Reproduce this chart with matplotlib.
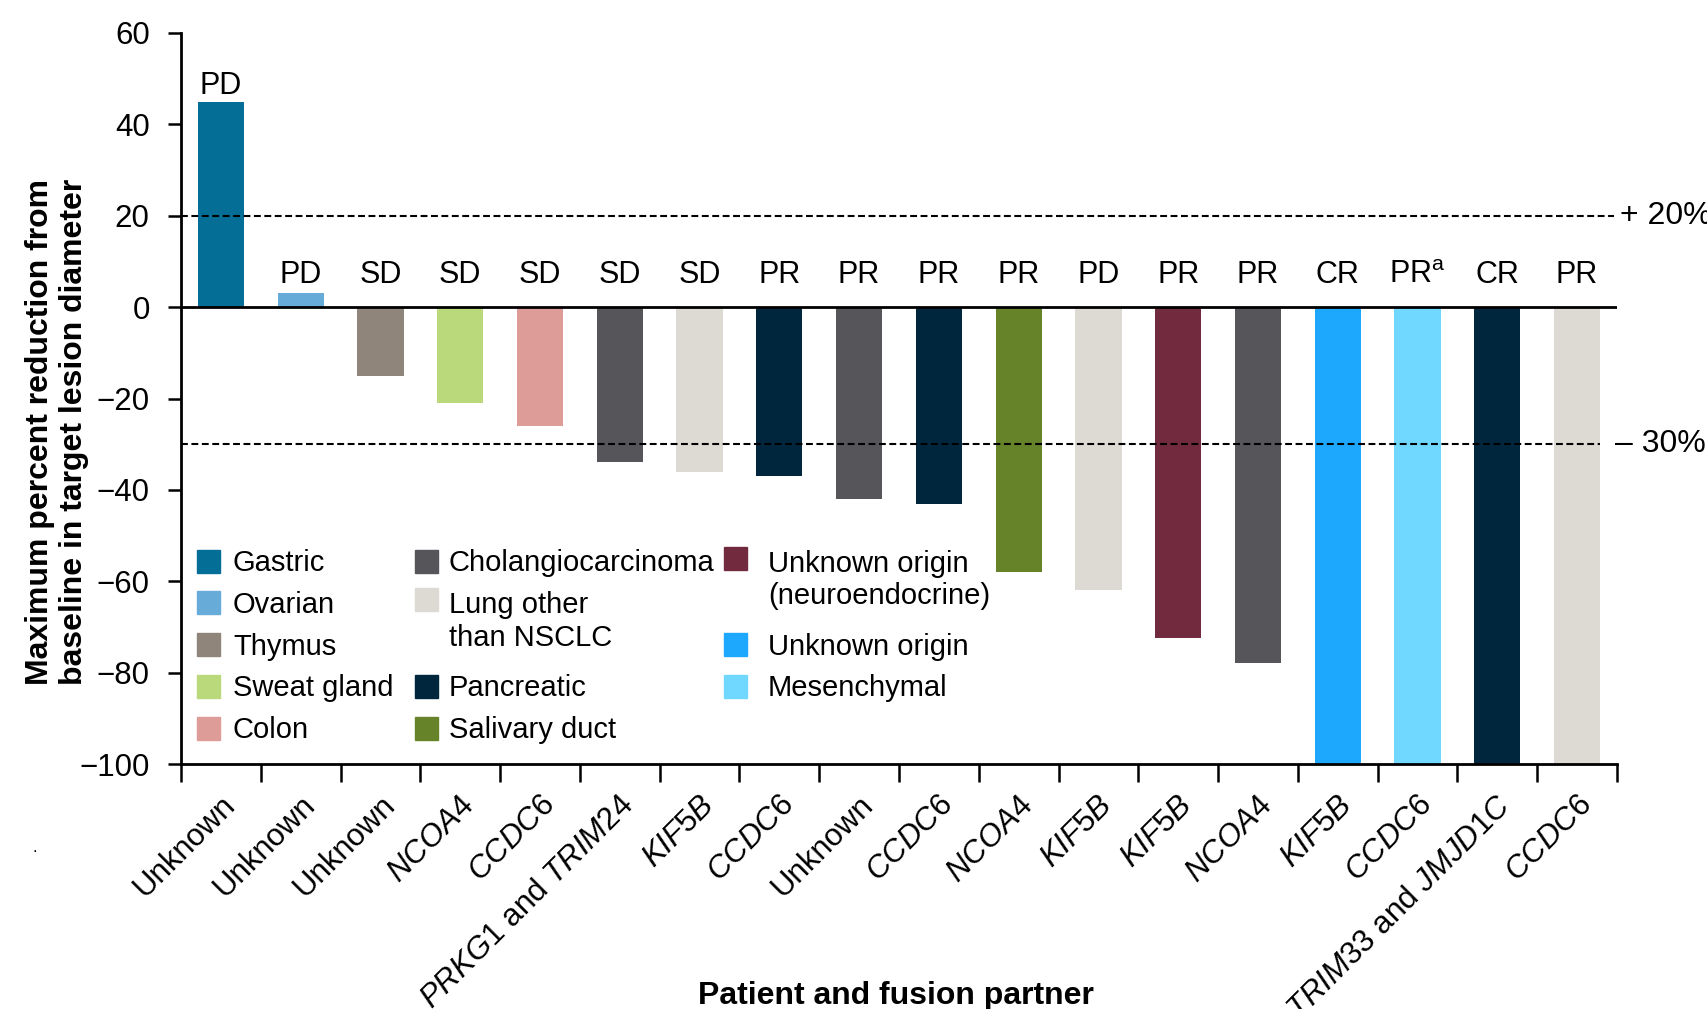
import numpy as np
import matplotlib.pyplot as plt
from matplotlib.patches import Rectangle
from matplotlib.transforms import ScaledTranslation

plt.rcParams['font.family'] = ['Liberation Sans', 'DejaVu Sans']
plt.rcParams['mathtext.fontset'] = 'custom'
plt.rcParams['mathtext.rm'] = 'Liberation Sans'
plt.rcParams['mathtext.it'] = 'Liberation Sans:italic'

# one bar per patient
partners = ['Unknown', 'Unknown', 'Unknown', 'NCOA4', 'CCDC6', 'PRKG1 and TRIM24',
            'KIF5B', 'CCDC6', 'Unknown', 'CCDC6', 'NCOA4', 'KIF5B', 'KIF5B',
            'NCOA4', 'KIF5B', 'CCDC6', 'TRIM33 and JMJD1C', 'CCDC6']
reduction = [45, 3, -15, -21, -26, -34, -36, -37, -42, -43, -58, -62, -72.5,
             -78, -100, -100, -100, -100]
response = ['PD', 'PD', 'SD', 'SD', 'SD', 'SD', 'SD', 'PR', 'PR', 'PR', 'PR',
            'PD', 'PR', 'PR', 'CR', r'PR$^{\mathrm{a}}$', 'CR', 'PR']
tumour = ['Gastric', 'Ovarian', 'Thymus', 'Sweat gland', 'Colon',
          'Cholangiocarcinoma', 'Lung other than NSCLC', 'Pancreatic',
          'Cholangiocarcinoma', 'Pancreatic', 'Salivary duct',
          'Lung other than NSCLC', 'Unknown origin (neuroendocrine)',
          'Cholangiocarcinoma', 'Unknown origin', 'Mesenchymal', 'Pancreatic',
          'Lung other than NSCLC']

tumour_colors = {
    'Gastric': '#046e96',
    'Ovarian': '#67acd8',
    'Thymus': '#8f857b',
    'Sweat gland': '#b9d97a',
    'Colon': '#de9c98',
    'Cholangiocarcinoma': '#56555a',
    'Lung other than NSCLC': '#dddad3',
    'Pancreatic': '#00263d',
    'Salivary duct': '#66832a',
    'Unknown origin (neuroendocrine)': '#722b3e',
    'Unknown origin': '#1ea8fd',
    'Mesenchymal': '#70d8ff',
}
# legend entries: (tumour type, text shown, column, row)
legend_items = [
    ('Gastric', 'Gastric', 0, 0),
    ('Ovarian', 'Ovarian', 0, 1),
    ('Thymus', 'Thymus', 0, 2),
    ('Sweat gland', 'Sweat gland', 0, 3),
    ('Colon', 'Colon', 0, 4),
    ('Cholangiocarcinoma', 'Cholangiocarcinoma', 1, 0),
    ('Lung other than NSCLC', 'Lung other\nthan NSCLC', 1, 0.93),
    ('Pancreatic', 'Pancreatic', 1, 3),
    ('Salivary duct', 'Salivary duct', 1, 4),
    ('Unknown origin (neuroendocrine)', 'Unknown origin\n(neuroendocrine)', 2, -0.07),
    ('Unknown origin', 'Unknown origin', 2, 2),
    ('Mesenchymal', 'Mesenchymal', 2, 3),
]


def fmt_partner(s):
    words = []
    for w in s.split(' '):
        if w in ('Unknown', 'and'):
            words.append(w)
        else:
            words.append(r'$\mathit{' + w + '}$')
    return ' '.join(words)


W, H = 1707, 1009
fig = plt.figure(figsize=(W / 100, H / 100), dpi=100)
ax = fig.add_axes([181 / W, 1 - 764 / H, (1617 - 181) / W, (764 - 33) / H])


def px(x, y):
    return x / W, 1 - y / H


x = np.arange(len(reduction))
colors = [tumour_colors[t] for t in tumour]
ax.bar(x, reduction, width=0.58, color=colors, zorder=2)

for i, (v, r) in enumerate(zip(reduction, response)):
    ax.text(i, max(v, 3.7) + 1.6, r, ha='center', va='baseline', fontsize=22)

ax.axhline(0, color='black', lw=2.0, zorder=3)
ax.axhline(20, xmax=0.998, color='black', lw=1.5, ls=(0, (3.3, 1.7)), zorder=3)
ax.axhline(-30, xmax=0.988, color='black', lw=1.5, ls=(0, (3.3, 1.7)), zorder=3)
ax.text(1.002, 20, '+ 20%', transform=ax.get_yaxis_transform(), va='center',
        ha='left', fontsize=23, clip_on=False)
ax.text(0.9986, -30, '\u2013 30%', transform=ax.get_yaxis_transform(), va='center',
        ha='left', fontsize=23, clip_on=False)

ax.set_xlim(-0.5, len(reduction) - 0.5)
ax.set_ylim(-100, 60)
ax.set_yticks([-100, -80, -60, -40, -20, 0, 20, 40, 60])

for s in ('top', 'right'):
    ax.spines[s].set_visible(False)
for s in ('left', 'bottom'):
    ax.spines[s].set_linewidth(2.0)

ax.tick_params(axis='y', direction='out', length=9.5, width=1.8, labelsize=22.5, pad=13)
ax.set_xticks(x)
ax.set_xticklabels([fmt_partner(p) for p in partners], rotation=45, ha='right',
                   va='center', rotation_mode='anchor', fontsize=22.5)
ax.tick_params(axis='x', which='major', length=0, pad=26.5)
ax.set_xticks(np.arange(len(reduction) + 1) - 0.5, minor=True)
ax.tick_params(axis='x', which='minor', direction='out', length=13, width=1.8)
shift = ScaledTranslation(0.10, 0, fig.dpi_scale_trans)
for lab in ax.get_xticklabels():
    lab.set_transform(lab.get_transform() + shift)

# legend drawn by hand in three columns
col_patch = [197, 415, 724]
col_text = [233, 449, 768]
row_top, row_step, line_step = 561, 41.8, 36
for name, text, col, row in legend_items:
    y = row_top + row * row_step
    fig.patches.append(Rectangle(px(col_patch[col], y + 11.5), 23 / W, 23 / H,
                                 transform=fig.transFigure,
                                 color=tumour_colors[name], figure=fig))
    # baseline of the last line
    base = y + 10 + line_step * text.count('\n')
    fig.text(*px(col_text[col], base), text, ha='left', va='baseline',
             fontsize=21, linespacing=1.2)

fig.text(*px(57, 432), 'Maximum percent reduction from\nbaseline in target lesion diameter',
         rotation=90, ha='center', va='center', fontsize=23, fontweight='bold',
         linespacing=1.15)
fig.text(*px(896, 1004), 'Patient and fusion partner', ha='center', va='baseline',
         fontsize=23, fontweight='bold')
fig.text(*px(32, 852), '.', fontsize=12)

fig.savefig('out.png', dpi=100)
